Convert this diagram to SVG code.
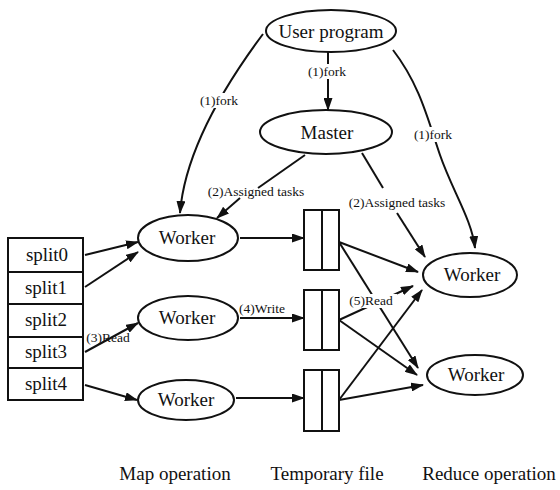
<svg xmlns="http://www.w3.org/2000/svg" width="560" height="490" viewBox="0 0 560 490">
<style>
.node{fill:#fff;stroke:#111;stroke-width:2}
.t{font-family:"Liberation Serif","Times New Roman",serif;font-size:19px;fill:#111;text-anchor:middle}
.s{font-family:"Liberation Serif","Times New Roman",serif;font-size:13.5px;fill:#111;text-anchor:middle}
.e{fill:none;stroke:#111;stroke-width:2}
.a{fill:none;stroke:#111;stroke-width:2;marker-end:url(#ah)}
.bg{fill:#fff}
</style>
<defs>
<marker id="ah" markerUnits="userSpaceOnUse" markerWidth="13" markerHeight="9" refX="12" refY="4.5" orient="auto">
<path d="M0,0 L13,4.5 L0,9 z" fill="#111"/>
</marker>
</defs>
<rect width="560" height="490" fill="#fff"/>
<g id="connectors">
<path class="a" d="M263 34 C225 85,185 150,180 213"/>
<path class="a" d="M328 52 L328 110"/>
<path class="a" d="M393 50 C420 85,428 120,440 155 S472 220,475 248"/>
<path class="e" d="M305 155 L258 188"/>
<path class="a" d="M240 198 L217 218"/>
<path class="e" d="M362 153 L383 188"/>
<path class="a" d="M397 213 L425 257"/>
<path class="a" d="M85 255 L138 242"/>
<path class="a" d="M85 287 L138 252"/>
<path class="a" d="M85 352 L138 323"/>
<path class="a" d="M85 385 L137 400"/>
<path class="a" d="M240 238 L304 238"/>
<path class="a" d="M240 318 L304 318"/>
<path class="a" d="M236 398 L304 398"/>
<path class="a" d="M339 242 L418 272"/>
<path class="a" d="M339 242 L418 368"/>
<path class="a" d="M339 320 L413 286"/>
<path class="a" d="M339 320 L417 375"/>
<path class="a" d="M339 400 L422 290"/>
<path class="a" d="M339 400 L423 385"/>
</g>
<g id="labels">
<rect class="bg" x="305" y="64" width="44" height="15"/>
<text class="s" x="327" y="76">(1)fork</text>
<rect class="bg" x="196" y="93" width="46" height="15"/>
<text class="s" x="219" y="105">(1)fork</text>
<rect class="bg" x="411" y="127" width="44" height="15"/>
<text class="s" x="433" y="139">(1)fork</text>
<text class="s" x="256" y="196">(2)Assigned tasks</text>
<text class="s" x="397" y="207">(2)Assigned tasks</text>
<text class="s" x="262" y="313">(4)Write</text>
<text class="s" x="108" y="342">(3)Read</text>
<rect class="bg" x="347" y="294" width="50" height="14"/>
<text class="s" x="371" y="305">(5)Read</text>
</g>
<g id="user-program"><ellipse class="node" cx="331" cy="31" rx="65" ry="21"/><text class="t" x="331" y="38">User program</text></g>
<g id="master"><ellipse class="node" cx="326" cy="132" rx="66" ry="22"/><text class="t" x="327" y="139">Master</text></g>
<g id="splits">
<rect class="node" x="8" y="238" width="75" height="162"/>
<path class="e" d="M8 272 H83 M8 304 H83 M8 337 H83 M8 368 H83"/>
<text class="t" x="47" y="261">split0</text>
<text class="t" x="46" y="294">split1</text>
<text class="t" x="46" y="326">split2</text>
<text class="t" x="46" y="358">split3</text>
<text class="t" x="46" y="390">split4</text>
</g>
<g id="map-worker-1"><ellipse class="node" cx="188" cy="238" rx="50" ry="23"/><text class="t" x="187" y="244">Worker</text></g>
<g id="map-worker-2"><ellipse class="node" cx="188" cy="318" rx="50" ry="22"/><text class="t" x="187" y="324">Worker</text></g>
<g id="map-worker-3"><ellipse class="node" cx="186" cy="400" rx="48" ry="20"/><text class="t" x="186" y="406">Worker</text></g>
<g id="file-1"><rect class="node" x="304" y="210" width="35" height="60"/><path class="e" d="M322 210 V270"/></g>
<g id="file-2"><rect class="node" x="304" y="290" width="35" height="60"/><path class="e" d="M322 290 V350"/></g>
<g id="file-3"><rect class="node" x="304" y="370" width="35" height="61"/><path class="e" d="M322 370 V431"/></g>
<g id="reduce-worker-1"><ellipse class="node" cx="470" cy="275" rx="47" ry="22"/><text class="t" x="472" y="281">Worker</text></g>
<g id="reduce-worker-2"><ellipse class="node" cx="475" cy="375" rx="48" ry="20"/><text class="t" x="476" y="381">Worker</text></g>
<g id="captions">
<text class="t" x="175" y="480">Map operation</text>
<text class="t" x="327" y="480">Temporary file</text>
<text class="t" x="489" y="480">Reduce operation</text>
</g>
</svg>
